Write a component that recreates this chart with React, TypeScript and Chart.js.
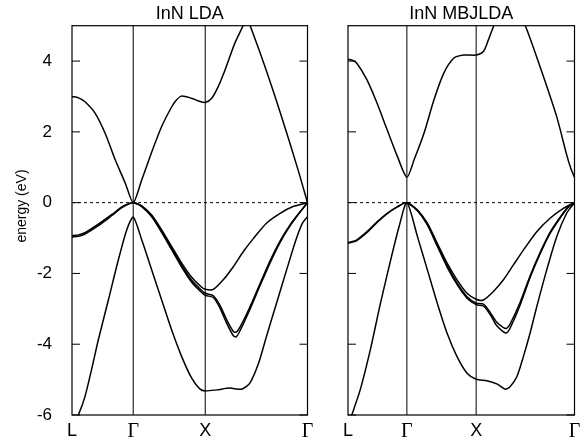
import React, { useEffect, useRef } from "react";
import { Chart, registerables } from "chart.js";
Chart.register(...registerables);

// ---- axis data ----
const kTicks = [0, 0.85, 1.85, 3.27];
const kLabels = ["L", "Γ", "X", "Γ"];
const yTicks = [-6, -4, -2, 0, 2, 4];
const yMin = -6;
const yMax = 5;
const titles = ["InN LDA", "InN MBJLDA"];
const yTitle = "energy (eV)";

// ---- InN LDA bands ----
const ldaLowK = [0, 0.088, 0.18, 0.27, 0.365, 0.505, 0.643, 0.76, 0.85, 0.968, 1.107, 1.245, 1.384, 1.523, 1.662, 1.778, 1.85, 2.01, 2.19, 2.357, 2.47, 2.59, 2.70, 2.84, 2.98, 3.11, 3.20, 3.27];
const ldaLowE = [-6.35, -6.0, -5.48, -4.73, -3.88, -2.75, -1.62, -0.77, -0.41, -1.05, -1.90, -2.75, -3.60, -4.35, -4.96, -5.27, -5.32, -5.29, -5.24, -5.27, -5.10, -4.54, -3.78, -2.84, -1.90, -1.05, -0.58, -0.40];

const ldaCondK = [0, 0.09, 0.18, 0.32, 0.46, 0.60, 0.74, 0.85, 0.968, 1.10, 1.245, 1.385, 1.45, 1.52, 1.66, 1.75, 1.85, 1.94, 2.03, 2.125, 2.26, 2.38, 2.42, 2.47, 2.68, 2.91, 3.14, 3.27];
const ldaCondE = [3.0, 2.96, 2.85, 2.53, 1.96, 1.21, 0.55, 0, 0.64, 1.39, 2.15, 2.71, 2.90, 3.01, 2.95, 2.88, 2.83, 2.95, 3.28, 3.75, 4.50, 5.02, 5.25, 5.02, 3.84, 2.43, 0.92, 0];

const ldaPairK = [0, 0.09, 0.18, 0.365, 0.55, 0.71, 0.85, 0.968, 1.107, 1.245, 1.384, 1.523, 1.662, 1.80, 1.85, 1.963, 2.055, 2.15, 2.24, 2.28, 2.333, 2.47, 2.61, 2.75, 2.89, 3.03, 3.17, 3.27];
const ldaPairAE = [-0.93, -0.91, -0.85, -0.61, -0.34, -0.10, 0, -0.10, -0.38, -0.81, -1.29, -1.77, -2.19, -2.48, -2.56, -2.63, -2.90, -3.32, -3.64, -3.66, -3.52, -2.95, -2.29, -1.64, -1.08, -0.62, -0.25, 0];
const ldaPairBE = [-0.97, -0.95, -0.89, -0.65, -0.37, -0.12, 0, -0.11, -0.40, -0.84, -1.33, -1.82, -2.25, -2.54, -2.62, -2.68, -2.98, -3.42, -3.76, -3.79, -3.62, -3.02, -2.35, -1.70, -1.12, -0.65, -0.26, 0];

const ldaTopK = [0.85, 0.968, 1.107, 1.245, 1.384, 1.523, 1.662, 1.80, 1.85, 1.963, 2.10, 2.24, 2.38, 2.52, 2.70, 2.89, 3.07, 3.27];
const ldaTopE = [0, -0.09, -0.35, -0.77, -1.24, -1.71, -2.11, -2.39, -2.45, -2.45, -2.18, -1.81, -1.38, -1.01, -0.58, -0.30, -0.11, 0];

// ---- InN MBJLDA bands ----
const mbjLowK = [0, 0.054, 0.176, 0.322, 0.469, 0.616, 0.737, 0.85, 1.003, 1.146, 1.289, 1.431, 1.574, 1.719, 1.85, 2.004, 2.148, 2.268, 2.34, 2.437, 2.532, 2.628, 2.725, 2.869, 3.013, 3.157, 3.27];
const mbjLowE = [-6.3, -6.0, -5.29, -4.16, -2.84, -1.62, -0.68, 0, -0.96, -1.90, -2.84, -3.69, -4.35, -4.82, -4.99, -5.03, -5.12, -5.27, -5.20, -4.92, -4.35, -3.69, -2.94, -1.90, -0.96, -0.30, 0];

const mbjCondK = [0, 0.054, 0.127, 0.274, 0.42, 0.567, 0.714, 0.85, 0.954, 1.097, 1.24, 1.383, 1.526, 1.669, 1.85, 1.955, 2.027, 2.109, 2.33, 2.556, 2.773, 3.013, 3.157, 3.22, 3.27];
const mbjCondE = [4.05, 4.03, 3.94, 3.47, 2.81, 2.05, 1.30, 0.72, 1.21, 1.96, 2.90, 3.66, 4.08, 4.17, 4.17, 4.27, 4.60, 5.02, 6.0, 5.02, 3.84, 2.43, 1.35, 0.95, 0.72];

const mbjPairK = [0, 0.127, 0.274, 0.42, 0.567, 0.714, 0.85, 1.003, 1.146, 1.289, 1.431, 1.574, 1.719, 1.85, 1.955, 2.052, 2.148, 2.244, 2.29, 2.34, 2.484, 2.628, 2.773, 2.917, 3.06, 3.17, 3.27];
const mbjPairAE = [-1.13, -1.05, -0.82, -0.54, -0.30, -0.11, 0, -0.22, -0.61, -1.20, -1.78, -2.27, -2.66, -2.84, -2.87, -3.10, -3.38, -3.53, -3.55, -3.43, -2.82, -2.07, -1.41, -0.84, -0.42, -0.14, 0];
const mbjPairBE = [-1.15, -1.07, -0.84, -0.56, -0.31, -0.12, 0, -0.23, -0.63, -1.23, -1.82, -2.31, -2.70, -2.88, -2.92, -3.16, -3.48, -3.65, -3.68, -3.55, -2.90, -2.12, -1.45, -0.87, -0.44, -0.15, 0];

const mbjTopK = [0.85, 1.003, 1.146, 1.289, 1.431, 1.574, 1.719, 1.85, 1.955, 2.099, 2.244, 2.388, 2.532, 2.725, 2.917, 3.109, 3.27];
const mbjTopE = [0, -0.21, -0.58, -1.15, -1.71, -2.18, -2.56, -2.73, -2.75, -2.51, -2.18, -1.76, -1.34, -0.82, -0.44, -0.16, 0];

type Band = { k: number[]; e: number[] };
const ldaBands: Band[] = [
  { k: ldaLowK, e: ldaLowE },
  { k: ldaCondK, e: ldaCondE },
  { k: ldaPairK, e: ldaPairAE },
  { k: ldaPairK, e: ldaPairBE },
  { k: ldaTopK, e: ldaTopE },
];
const mbjBands: Band[] = [
  { k: mbjLowK, e: mbjLowE },
  { k: mbjCondK, e: mbjCondE },
  { k: mbjPairK, e: mbjPairAE },
  { k: mbjPairK, e: mbjPairBE },
  { k: mbjTopK, e: mbjTopE },
];

const SANS = '"Liberation Sans", Arial, Helvetica, sans-serif';
const SERIF = '"Liberation Serif", "Times New Roman", serif';

function decoPlugin(title: string, showYTitle: boolean) {
  return {
    id: "deco",
    afterDatasetsDraw(chart: any) {
      const { ctx, chartArea: a, scales } = chart;
      const ys = scales.y;
      ctx.save();
      ctx.strokeStyle = "#000";
      ctx.lineWidth = 1.2;
      ctx.strokeRect(a.left, a.top, a.right - a.left, a.bottom - a.top);
      ctx.beginPath();
      yTicks.forEach((v) => {
        const py = ys.getPixelForValue(v);
        ctx.moveTo(a.left, py);
        ctx.lineTo(a.left + 8, py);
        ctx.moveTo(a.right, py);
        ctx.lineTo(a.right - 8, py);
      });
      ctx.lineWidth = 1;
      ctx.stroke();
      ctx.fillStyle = "#000";
      ctx.font = "18px " + SANS;
      ctx.textAlign = "center";
      ctx.textBaseline = "alphabetic";
      ctx.fillText(title, (a.left + a.right) / 2, 19);
      if (showYTitle) {
        ctx.save();
        ctx.translate(25.5, 206);
        ctx.rotate(-Math.PI / 2);
        ctx.font = "14px " + SANS;
        ctx.textAlign = "center";
        ctx.textBaseline = "alphabetic";
        ctx.fillText(yTitle, 0, 0);
        ctx.restore();
      }
      ctx.restore();
    },
  };
}

function makeConfig(bands: Band[], title: string, showY: boolean, yWidth: number, padRight: number): any {
  const kEnd = kTicks[kTicks.length - 1];
  const datasets: any[] = [
    {
      data: [{ x: 0, y: 0 }, { x: kEnd, y: 0 }],
      borderColor: "#000",
      borderWidth: 1,
      borderDash: [3, 3],
      pointRadius: 0,
      tension: 0,
    },
    ...kTicks.slice(1, 3).map((kv) => ({
      data: [{ x: kv, y: yMin }, { x: kv, y: yMax }],
      borderColor: "#000",
      borderWidth: 1,
      pointRadius: 0,
      tension: 0,
    })),
    ...bands.map((b) => ({
      data: b.k.map((kv, i) => ({ x: kv, y: b.e[i] })),
      borderColor: "#000",
      borderWidth: 1.5,
      pointRadius: 0,
      tension: 0.25,
      fill: false,
    })),
  ];
  return {
    type: "line",
    data: { datasets },
    options: {
      responsive: false,
      animation: false,
      devicePixelRatio: 1,
      layout: { padding: { left: 0, right: padRight, top: 25.7, bottom: 0 } },
      plugins: { legend: { display: false }, tooltip: { enabled: false }, title: { display: false } },
      scales: {
        x: {
          type: "linear",
          min: 0,
          max: kEnd,
          grid: { display: false },
          border: { display: false },
          afterBuildTicks: (s: any) => {
            s.ticks = kTicks.map((v) => ({ value: v }));
          },
          afterFit: (s: any) => {
            s.height = 32;
          },
          ticks: {
            autoSkip: false,
            maxRotation: 0,
            color: "#000",
            padding: -3,
            callback: (_v: any, i: number) => kLabels[i],
            font: (c: any) =>
              c.index === 1 || c.index === 3
                ? { family: SERIF, size: 20 }
                : { family: SANS, size: 18 },
          },
        },
        y: {
          type: "linear",
          min: yMin,
          max: yMax,
          grid: { display: false },
          border: { display: false },
          afterBuildTicks: (s: any) => {
            s.ticks = yTicks.map((v) => ({ value: v }));
          },
          afterFit: (s: any) => {
            s.width = yWidth;
          },
          ticks: {
            display: showY,
            color: "#000",
            padding: 12,
            font: { family: SANS, size: 17 },
          },
        },
      },
    },
    plugins: [decoPlugin(title, showY)],
  };
}

export default function App() {
  const leftRef = useRef<HTMLCanvasElement>(null);
  const rightRef = useRef<HTMLCanvasElement>(null);
  useEffect(() => {
    const c1 = new Chart(leftRef.current as HTMLCanvasElement, makeConfig(ldaBands, titles[0], true, 72, 12.5));
    const c2 = new Chart(rightRef.current as HTMLCanvasElement, makeConfig(mbjBands, titles[1], false, 28, 9.5));
    return () => {
      c1.destroy();
      c2.destroy();
    };
  }, []);
  return (
    <div style={{ position: "fixed", left: 0, top: 0, width: 584, height: 447, background: "#fff" }}>
      <canvas ref={leftRef} width={320} height={447} style={{ position: "absolute", left: 0, top: 0, width: 320, height: 447 }} />
      <canvas ref={rightRef} width={264} height={447} style={{ position: "absolute", left: 320, top: 0, width: 264, height: 447 }} />
    </div>
  );
}
